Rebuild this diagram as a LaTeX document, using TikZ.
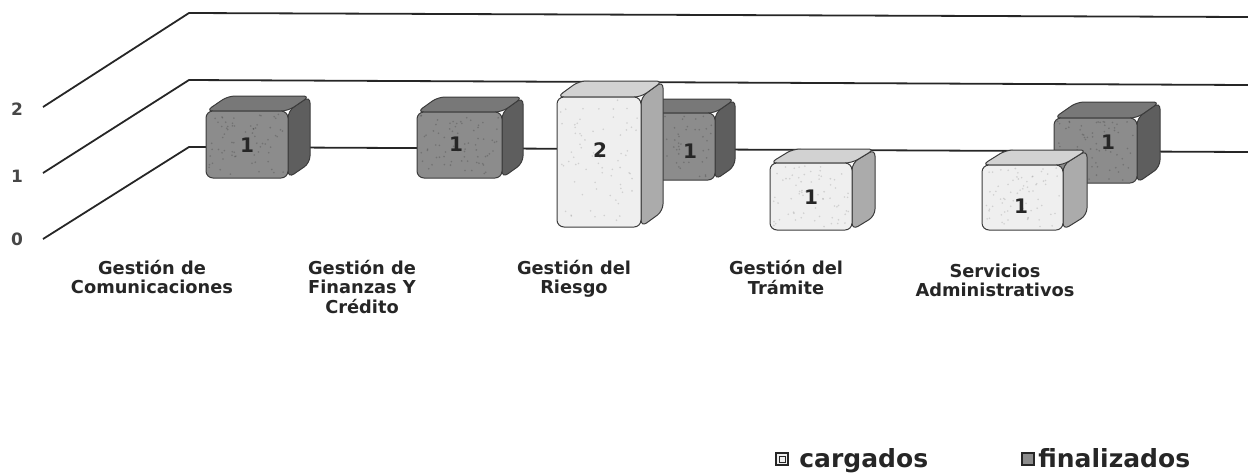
\documentclass[tikz,border=0pt]{standalone}
\usepackage{fontspec}
\setmainfont{DejaVu Sans}
\definecolor{finF}{HTML}{8C8C8C}
\definecolor{finT}{HTML}{787878}
\definecolor{finS}{HTML}{5E5E5E}
\definecolor{carF}{HTML}{EFEFEF}
\definecolor{carT}{HTML}{D2D2D2}
\definecolor{carS}{HTML}{ABABAB}
\definecolor{edgecol}{HTML}{3C3C3C}
\definecolor{inkcol}{HTML}{262626}
\newcommand\cubebar[7]{%
  % #1 kind (fin/car), #2 x left, #3 x right, #4 y top, #5 y bottom, #6 depth dx, #7 depth dy (up)
  \filldraw[#1side] (#3,#5) -- ({#3+#6},{#5-#7}) -- ({#3+#6},{#4-#7}) -- (#3,#4) -- cycle;
  \filldraw[#1top] (#2,#4) -- ({#2+#6},{#4-#7}) -- ({#3+#6},{#4-#7}) -- (#3,#4) -- cycle;
  \filldraw[#1front] (#2,#5) rectangle (#3,#4);
  \foreach \k in {1,...,70}{%
    \pgfmathsetmacro\px{#2+3+rnd*(#3-#2-6)}%
    \pgfmathsetmacro\py{#4+3+rnd*(#5-#4-6)}%
    \fill[#1speck] (\px,\py) circle (0.45pt);
  }%
}
\newcommand\twolines[1]{\begin{tabular}[t]{@{}c@{}}#1\end{tabular}}
\begin{document}
\begin{tikzpicture}[x=0.5pt,y=-0.5pt,
  grid/.style={line width=0.9pt,draw=inkcol,line join=round},
  finfront/.style={fill=finF,draw=edgecol,line width=0.5pt,rounded corners=3.5pt},
  fintop/.style={fill=finT,draw=edgecol,line width=0.5pt,rounded corners=3.5pt},
  finside/.style={fill=finS,draw=edgecol,line width=0.5pt,rounded corners=3.5pt},
  finspeck/.style={fill=black,opacity=0.18},
  carfront/.style={fill=carF,draw=edgecol,line width=0.5pt,rounded corners=3.5pt},
  cartop/.style={fill=carT,draw=edgecol,line width=0.5pt,rounded corners=3.5pt},
  carside/.style={fill=carS,draw=edgecol,line width=0.5pt,rounded corners=3.5pt},
  carspeck/.style={fill=black!60,opacity=0.22},
  catlabel/.style={font=\fontsize{8.9}{9.6}\selectfont\bfseries,anchor=base,inner sep=0pt,text=inkcol},
  axlabel/.style={font=\fontsize{8.5}{10}\selectfont\bfseries,inner sep=0pt,text=inkcol!85},
  vallabel/.style={font=\fontsize{10}{12}\selectfont\bfseries,inner sep=0pt,text=inkcol},
  legtext/.style={font=\fontsize{12.5}{14}\selectfont\bfseries,anchor=base west,inner sep=0pt,text=inkcol},
  legicon/.style={draw=inkcol,line width=0.7pt,minimum size=6pt,inner sep=0pt}]
\useasboundingbox (0,0) rectangle (1248,473);
\pgfmathsetseed{11}
% grid / walls
\coordinate (g2a) at (43,107); \coordinate (g2b) at (189,13); \coordinate (g2c) at (1248,17);
\coordinate (g1a) at (43,173); \coordinate (g1b) at (189,80); \coordinate (g1c) at (1248,85);
\coordinate (g0a) at (43,239); \coordinate (g0b) at (189,147); \coordinate (g0c) at (1248,152);
\draw[grid] (g2a) -- (g2b) -- (g2c);
\draw[grid] (g1a) -- (g1b) -- (g1c);
\draw[grid] (g0a) -- (g0b) -- (g0c);
% axis labels
\node[axlabel] (ax2) at (17,109) {2};
\node[axlabel] (ax1) at (17,176) {1};
\node[axlabel] (ax0) at (17,239) {0};
% back row: finalizados
\cubebar{fin}{206}{288}{111}{178}{22}{15}
\cubebar{fin}{417}{502}{112}{178}{21}{15}
\cubebar{fin}{633}{715}{113}{180}{20}{14}
\cubebar{fin}{1054}{1137}{118}{183}{23}{16}
% front row: cargados
\cubebar{car}{557}{641}{97}{227}{22}{16}
\cubebar{car}{770}{852}{163}{230}{23}{14}
\cubebar{car}{982}{1063}{165}{230}{24}{15}
% value labels
\node[vallabel] (vf1) at (247,145) {1};
\node[vallabel] (vf2) at (456,144) {1};
\node[vallabel] (vf3) at (690,151) {1};
\node[vallabel] (vf5) at (1108,142) {1};
\node[vallabel] (vc3) at (600,150) {2};
\node[vallabel] (vc4) at (811,197) {1};
\node[vallabel] (vc5) at (1021,206) {1};
% category labels
\node[catlabel] (cat1) at (152,274) {\twolines{Gestión de\\Comunicaciones}};
\node[catlabel] (cat2) at (362,274) {\twolines{Gestión de\\Finanzas Y\\Crédito}};
\node[catlabel] (cat3) at (574,274) {\twolines{Gestión del\\Riesgo}};
\node[catlabel] (cat4) at (786,274) {\twolines{Gestión del\\Trámite}};
\node[catlabel] (cat5) at (995,277) {\twolines{Servicios\\Administrativos}};
% legend
\node[legicon,fill=carF] (licar) at (782,459) {};
\draw[inkcol,line width=0.5pt] (779,456) rectangle (785,462);
\node[legtext] (ltcar) at (799,467) {cargados};
\node[legicon,fill=finF] (lifin) at (1028,459) {};
\node[legtext] (ltfin) at (1038,467) {finalizados};
\end{tikzpicture}
\end{document}
